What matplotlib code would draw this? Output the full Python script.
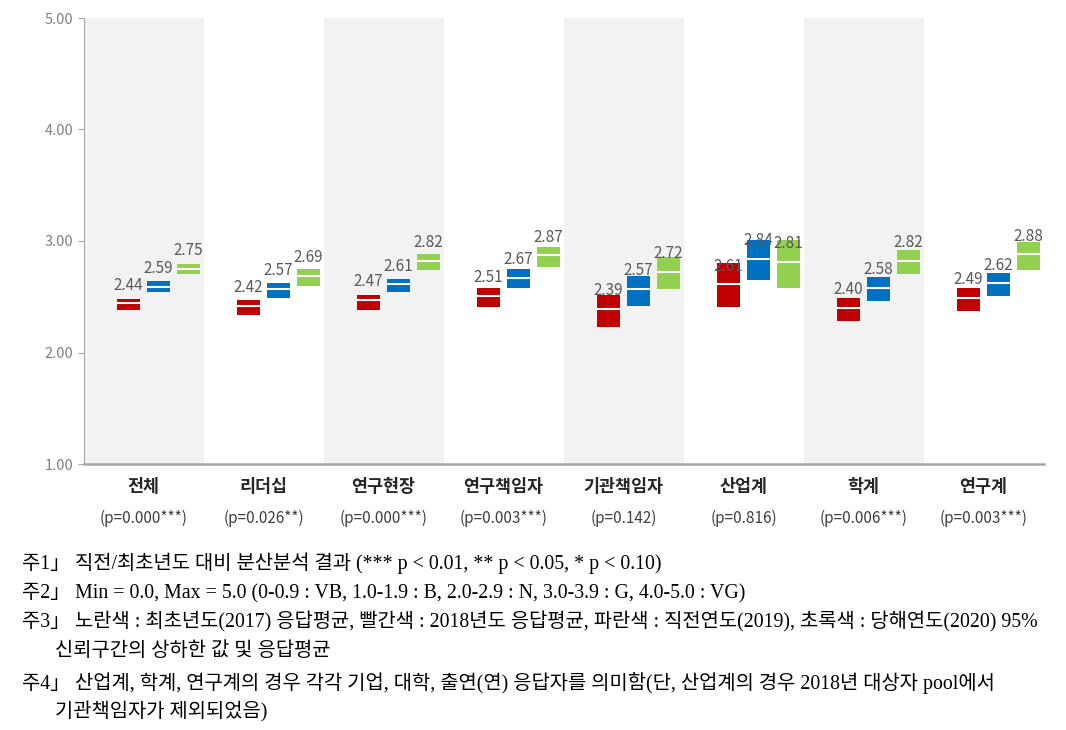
import matplotlib.pyplot as plt
import numpy as np

plt.rcParams['font.family'] = ['Noto Sans CJK KR', 'DejaVu Sans']

# 항목 및 p값
categories = ['전체', '리더십', '연구현장', '연구책임자', '기관책임자', '산업계', '학계', '연구계']
pvals = ['(p=0.000***)', '(p=0.026**)', '(p=0.000***)', '(p=0.003***)',
         '(p=0.142)', '(p=0.816)', '(p=0.006***)', '(p=0.003***)']

# 2018 (빨간색)
red_mean = [2.44, 2.42, 2.47, 2.51, 2.39, 2.61, 2.40, 2.49]
red_lo = [2.38, 2.34, 2.38, 2.41, 2.23, 2.41, 2.28, 2.37]
red_hi = [2.48, 2.47, 2.52, 2.58, 2.52, 2.80, 2.49, 2.58]
# 2019 (파란색)
blue_mean = [2.59, 2.57, 2.61, 2.67, 2.57, 2.84, 2.58, 2.62]
blue_lo = [2.54, 2.49, 2.54, 2.58, 2.42, 2.65, 2.46, 2.51]
blue_hi = [2.64, 2.62, 2.66, 2.75, 2.69, 3.01, 2.68, 2.71]
# 2020 (초록색)
green_mean = [2.75, 2.69, 2.82, 2.87, 2.72, 2.81, 2.82, 2.88]
green_lo = [2.70, 2.60, 2.74, 2.77, 2.57, 2.58, 2.70, 2.74]
green_hi = [2.79, 2.75, 2.88, 2.95, 2.86, 3.01, 2.92, 2.99]

notes = [
    ('주1」 직전/최초년도 대비 분산분석 결과 (*** p < 0.01, ** p < 0.05, * p < 0.10)', 0),
    ('주2」 Min = 0.0, Max = 5.0 (0-0.9 : VB, 1.0-1.9 : B, 2.0-2.9 : N, 3.0-3.9 : G, 4.0-5.0 : VG)', 0),
    ('주3」 노란색 : 최초년도(2017) 응답평균, 빨간색 : 2018년도 응답평균, 파란색 : 직전연도(2019), 초록색 : 당해연도(2020) 95%', 0),
    ('신뢰구간의 상하한 값 및 응답평균', 1),
    ('주4」 산업계, 학계, 연구계의 경우 각각 기업, 대학, 출연(연) 응답자를 의미함(단, 산업계의 경우 2018년 대상자 pool에서', 0),
    ('기관책임자가 제외되었음)', 1),
]

fig = plt.figure(figsize=(10.66, 7.3), dpi=100)
ax = fig.add_axes([83.5 / 1066, 1 - 464 / 730, 960 / 1066, 446 / 730])

x = np.arange(len(categories))
slot = 0.25
w = 0.195
series = [
    (red_mean, red_lo, red_hi, '#C00000', -0.5),
    (blue_mean, blue_lo, blue_hi, '#0070C0', 0.5),
    (green_mean, green_lo, green_hi, '#92D050', 1.5),
]

# 배경 음영
for i in range(0, len(categories), 2):
    ax.axvspan(i - 0.5, i + 0.5, color='#F2F2F2', zorder=0, lw=0)

for mean, lo, hi, col, k in series:
    xs = x + k * slot
    lo = np.array(lo)
    hi = np.array(hi)
    ax.bar(xs, hi - lo, bottom=lo, width=w, color=col, zorder=2)
    ax.hlines(mean, xs - w / 2, xs + w / 2, color='white', lw=1.5, zorder=3)
    for xi, m in zip(xs, mean):
        ax.annotate(f'{m:.2f}', (xi, m), xytext=(0, 7), textcoords='offset points',
                    ha='center', va='bottom', color='#595959', fontsize=11, zorder=4)

ax.set_xlim(-0.5, 7.5)
ax.set_ylim(1, 5)
ax.set_yticks([1, 2, 3, 4, 5])
ax.set_yticklabels([f'{v:.2f}' for v in [1, 2, 3, 4, 5]], color='#808080', fontsize=10.5)
ax.set_xticks([])
ax.tick_params(axis='y', length=4, color='#A6A6A6')
for s in ['top', 'right']:
    ax.spines[s].set_visible(False)
ax.spines['left'].set_color('#A6A6A6')
ax.spines['bottom'].set_color('#A6A6A6')
ax.spines['bottom'].set_linewidth(1.8)

tr = ax.get_xaxis_transform()
for xi, c, p in zip(x, categories, pvals):
    ax.text(xi, -0.052, c, transform=tr, ha='center', va='center',
            fontsize=12.5, fontweight='bold', color='#262626')
    ax.text(xi, -0.121, p, transform=tr, ha='center', va='center',
            fontsize=11, color='#404040')

# 주석
ys = [563, 593, 622, 651, 683, 712]
for (txt, ind), yp in zip(notes, ys):
    fig.text((55 if ind else 22) / 1066, 1 - yp / 730, txt, ha='left', va='center',
             fontsize=14.3, color='black', family=['Liberation Serif', 'Noto Sans CJK KR'])

fig.savefig('out.png', dpi=100)
